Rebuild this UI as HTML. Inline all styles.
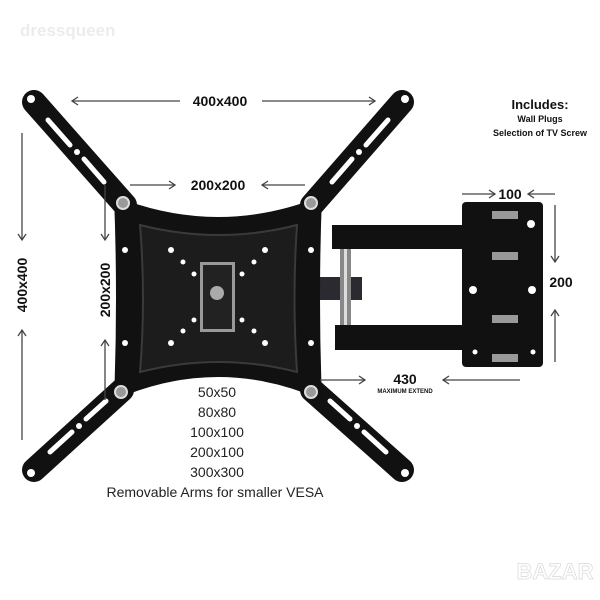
<!DOCTYPE html>
<html><head><meta charset="utf-8"><style>
html,body{margin:0;padding:0;background:#fff;}
svg{display:block;}
text{font-family:"Liberation Sans",sans-serif;}
</style></head><body>
<svg width="600" height="600" viewBox="0 0 600 600" xmlns="http://www.w3.org/2000/svg">
<rect width="600" height="600" fill="#fff"/>
<text x="20" y="36" font-size="17" font-weight="bold" fill="#ececec">dressqueen</text>
<!-- arms -->
<g stroke="#111" stroke-width="24" stroke-linecap="round">
<line x1="34" y1="102" x2="125" y2="205"/>
<line x1="402" y1="102" x2="312" y2="205"/>
<line x1="34" y1="470" x2="122" y2="390"/>
<line x1="402" y1="470" x2="312" y2="390"/>
</g>
<g stroke="#fff" stroke-width="5" stroke-linecap="round">
<line x1="48" y1="120" x2="70" y2="145"/><line x1="84" y1="159" x2="104" y2="182"/>
<line x1="388" y1="120" x2="366" y2="145"/><line x1="352" y1="159" x2="332" y2="182"/>
<line x1="50" y1="452" x2="72" y2="432"/><line x1="86" y1="419" x2="106" y2="401"/>
<line x1="386" y1="452" x2="364" y2="432"/><line x1="350" y1="419" x2="330" y2="401"/>
</g>
<g fill="#fff">
<circle cx="31" cy="99" r="4"/><circle cx="405" cy="99" r="4"/>
<circle cx="31" cy="473" r="4"/><circle cx="405" cy="473" r="4"/>
<circle cx="77" cy="152" r="3"/><circle cx="359" cy="152" r="3"/>
<circle cx="79" cy="426" r="3"/><circle cx="357" cy="426" r="3"/>
</g>
<!-- extension arms -->
<rect x="300" y="277" width="62" height="23" fill="#2a2a30"/>
<rect x="340" y="245" width="11" height="82" fill="#888"/>
<rect x="344" y="245" width="3" height="82" fill="#ddd"/>
<rect x="462" y="202" width="81" height="165" rx="4" fill="#111"/>
<rect x="332" y="225" width="188" height="24" fill="#111"/>
<rect x="335" y="325" width="185" height="25" fill="#111"/>
<g fill="#999"><rect x="492" y="211" width="26" height="8"/><rect x="492" y="252" width="26" height="8"/><rect x="492" y="315" width="26" height="8"/><rect x="492" y="354" width="26" height="8"/></g>
<g fill="#fff"><circle cx="531" cy="224" r="4"/><circle cx="473" cy="290" r="4"/><circle cx="532" cy="290" r="4"/><circle cx="475" cy="352" r="2.5"/><circle cx="533" cy="352" r="2.5"/></g>
<!-- plate -->
<path d="M114 196 Q218 238 322 196 Q318 298 322 400 Q218 354 114 400 Q118 298 114 196 Z" fill="#111"/>
<path d="M140 225 Q219 245 297 225 Q292 298 297 372 Q219 352 140 372 Q146 298 140 225 Z" fill="#1c1c1c" stroke="#3a3a3a" stroke-width="2"/>
<rect x="200" y="262" width="35" height="70" fill="#999"/>
<rect x="203" y="265" width="29" height="64" fill="#222"/>
<circle cx="217" cy="293" r="7" fill="#aaa"/>
<g fill="#fff">
<circle cx="125" cy="250" r="3"/><circle cx="311" cy="250" r="3"/><circle cx="125" cy="343" r="3"/><circle cx="311" cy="343" r="3"/>
<circle cx="171" cy="250" r="3"/><circle cx="265" cy="250" r="3"/><circle cx="171" cy="343" r="3"/><circle cx="265" cy="343" r="3"/>
<circle cx="183" cy="262" r="2.5"/><circle cx="254" cy="262" r="2.5"/><circle cx="183" cy="331" r="2.5"/><circle cx="254" cy="331" r="2.5"/>
<circle cx="194" cy="274" r="2.5"/><circle cx="242" cy="274" r="2.5"/><circle cx="194" cy="320" r="2.5"/><circle cx="242" cy="320" r="2.5"/>
</g>
<g fill="#999" stroke="#ddd" stroke-width="2"><circle cx="123" cy="203" r="6"/><circle cx="311" cy="203" r="6"/><circle cx="121" cy="392" r="6"/><circle cx="311" cy="392" r="6"/></g>
<!-- dimension lines -->
<g stroke="#444" stroke-width="1.3" fill="none">
<line x1="72" y1="101" x2="180" y2="101"/><line x1="262" y1="101" x2="375" y2="101"/>
<path d="M78 97 L72 101 L78 105 M369 97 L375 101 L369 105"/>
<line x1="130" y1="185" x2="175" y2="185"/><path d="M169 181 L175 185 L169 189"/>
<line x1="262" y1="185" x2="305" y2="185"/><path d="M268 181 L262 185 L268 189"/>
<line x1="22" y1="133" x2="22" y2="240"/><path d="M18 234 L22 240 L26 234"/>
<line x1="22" y1="330" x2="22" y2="440"/><path d="M18 336 L22 330 L26 336"/>
<line x1="105" y1="185" x2="105" y2="240"/><path d="M101 234 L105 240 L109 234"/>
<line x1="105" y1="340" x2="105" y2="400"/><path d="M101 346 L105 340 L109 346"/>
<line x1="320" y1="380" x2="365" y2="380"/><path d="M359 376 L365 380 L359 384"/>
<line x1="443" y1="380" x2="520" y2="380"/><path d="M449 376 L443 380 L449 384"/>
<line x1="462" y1="194" x2="495" y2="194"/><path d="M489 190 L495 194 L489 198"/>
<line x1="528" y1="194" x2="555" y2="194"/><path d="M534 190 L528 194 L534 198"/>
<line x1="555" y1="205" x2="555" y2="262"/><path d="M551 256 L555 262 L559 256"/>
<line x1="555" y1="310" x2="555" y2="362"/><path d="M551 316 L555 310 L559 316"/>
</g>
<g fill="#111" font-weight="bold" text-anchor="middle">
<text x="220" y="106" font-size="14">400x400</text>
<text x="218" y="190" font-size="14">200x200</text>
<text x="510" y="199" font-size="14">100</text>
<text x="561" y="287" font-size="14">200</text>
<text x="405" y="384" font-size="14">430</text>
<text x="405" y="393" font-size="6">MAXIMUM EXTEND</text>
<text x="540" y="109" font-size="13">Includes:</text>
<text x="540" y="122" font-size="9">Wall Plugs</text>
<text x="540" y="136" font-size="9">Selection of TV Screw</text>
<text transform="translate(27,285) rotate(-90)" font-size="14">400x400</text>
<text transform="translate(110,290) rotate(-90)" font-size="14">200x200</text>
</g>
<g fill="#222" font-size="14" text-anchor="middle">
<text x="217" y="397">50x50</text>
<text x="217" y="417">80x80</text>
<text x="217" y="437">100x100</text>
<text x="217" y="457">200x100</text>
<text x="217" y="477">300x300</text>
<text x="215" y="497" font-size="14">Removable Arms for smaller VESA</text>
</g>
<text x="555" y="579" font-size="22" font-weight="bold" fill="#fff" stroke="#d8d8d8" stroke-width="0.7" text-anchor="middle">BAZAR</text>
</svg>
</body></html>
